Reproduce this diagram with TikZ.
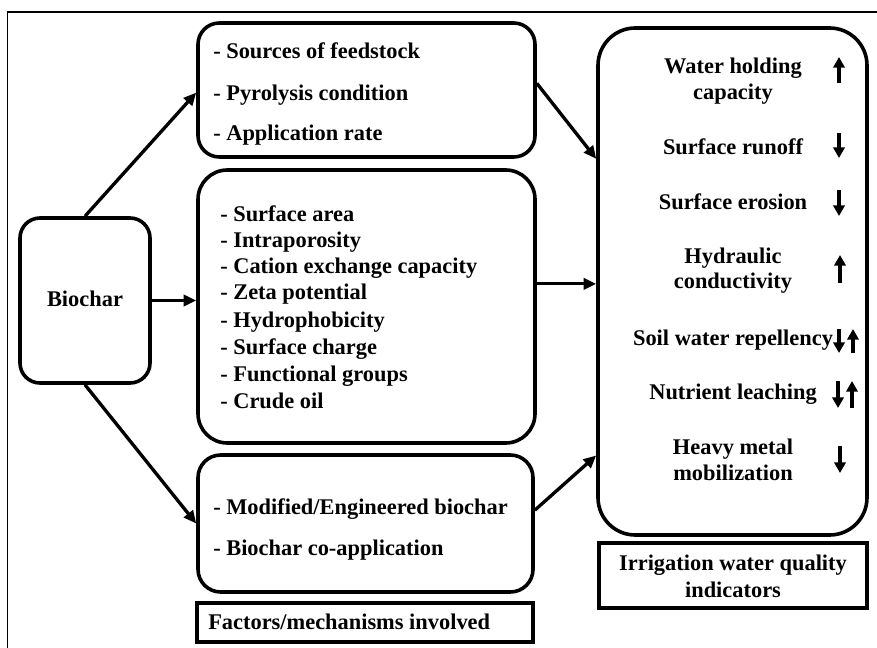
\documentclass[tikz,border=0pt]{standalone}
\usepackage{fontspec}
\setmainfont{Liberation Serif}
\usetikzlibrary{arrows.meta,fit}
\begin{document}
\begin{tikzpicture}[x=0.75pt,y=-0.75pt,
  every node/.style={font=\fontsize{16.8}{20}\selectfont\bfseries, inner sep=0pt},
  rbox/.style={draw, line width=2.7pt, rounded corners=#1, inner sep=0pt},
  sqbox/.style={draw, line width=3pt, inner sep=0pt},
  item/.style={anchor=base west},
  ctr/.style={anchor=base},
  trend/.style={line width=2.5pt, -{Triangle[length=8pt,width=8.5pt]}},
  link/.style={line width=2.5pt, -{Triangle[length=9.5pt,width=8.5pt]}},
  ]
\useasboundingbox (0,0) rectangle (877,648);
% outer frame (left and top edges only)
\draw[line width=1.2pt] (7.5,648) -- (7.5,12) -- (877,12);

% boxes
\node[rbox=15pt, fit={(20,218) (150,383)}] (bio) {};
\node[anchor=base] at (85,306) {Biochar};

\node[rbox=16pt, fit={(198,23) (535,157)}] (src) {};
\node[rbox=22pt, fit={(198,170) (535,443)}] (mid) {};
\node[rbox=17pt, fit={(198,455) (533,592)}] (bot) {};
\node[sqbox, fit={(197,603) (533,642)}] (fac) {};
\node[rbox=28pt, fit={(598,28) (867,535)}] (ind) {};
\node[sqbox, fit={(599,543) (867,608)}] (iwq) {};

% feedstock / production factors
\node[item] at (213,59) {- Sources of feedstock};
\node[item] at (213,101) {- Pyrolysis condition};
\node[item] at (213,141) {- Application rate};

% biochar properties
\node[item] at (220,222) {- Surface area};
\node[item] at (220,248) {- Intraporosity};
\node[item] at (220,274) {- Cation exchange capacity};
\node[item] at (220,300) {- Zeta potential};
\node[item] at (220,327) {- Hydrophobicity};
\node[item] at (220,354) {- Surface charge};
\node[item] at (220,381) {- Functional groups};
\node[item] at (220,408) {- Crude oil};

% biochar treatments
\node[item] at (213,514) {- Modified/Engineered biochar};
\node[item] at (213,555) {- Biochar co-application};

\node[item] at (208,629) {Factors/mechanisms involved};

% indicators
\node[ctr] at (733,74) {Water holding};
\node[ctr] at (733,100) {capacity};
\node[ctr] at (733,155) {Surface runoff};
\node[ctr] at (733,210) {Surface erosion};
\node[ctr] at (733,264) {Hydraulic};
\node[ctr] at (733,289) {conductivity};
\node[ctr] at (733,345) {Soil water repellency};
\node[ctr] at (733,399) {Nutrient leaching};
\node[ctr] at (733,454) {Heavy metal};
\node[ctr] at (733,480) {mobilization};

% increase / decrease markers
\draw[trend] (839,83) -- (839,57);
\draw[trend] (839,133) -- (839,158);
\draw[trend] (839,190) -- (839,216);
\draw[trend] (840,283) -- (840,255);
\draw[trend] (839,329) -- (839,353);
\draw[trend] (853,353) -- (853,329);
\draw[trend] (838,381) -- (838,408);
\draw[trend] (852,408) -- (852,381);
\draw[trend] (840,446) -- (840,473);

\node[ctr] at (733,570) {Irrigation water quality};
\node[ctr] at (733,597) {indicators};

% connectors
\draw[link] (bio.north) -- ([yshift=-2pt]src.west);
\draw[link] (bio.east) -- (bio.east -| mid.west);
\draw[link] (bio.south) -- (bot.west);
\draw[link] ([yshift=5pt]src.east) -- (ind.west |- src.south);
\draw[link] ([yshift=17pt]mid.east) -- ([yshift=17pt]mid.east -| ind.west);
\draw[link] ([yshift=10pt]bot.east) -- ([yshift=51pt]bot.east -| ind.west);
\end{tikzpicture}
\end{document}
